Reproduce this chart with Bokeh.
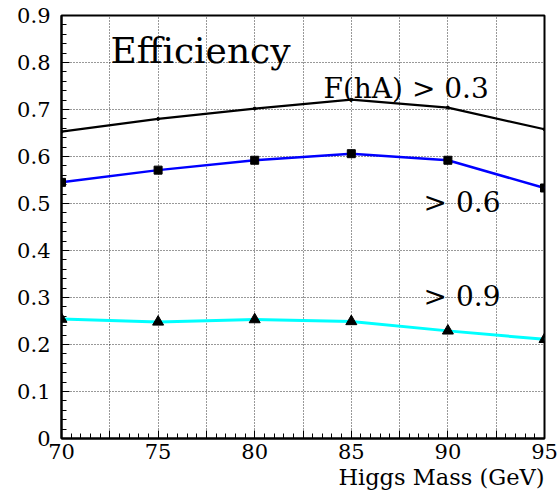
from bokeh.plotting import figure
from bokeh.models import Range1d, FixedTicker, Label, Title
from bokeh.embed import file_html
from bokeh.resources import INLINE

# ---- data ----
mass = [70, 75, 80, 85, 90, 95]
eff_03 = [0.653, 0.680, 0.702, 0.721, 0.704, 0.658]
eff_06 = [0.545, 0.571, 0.592, 0.606, 0.592, 0.533]
eff_09 = [0.254, 0.248, 0.253, 0.249, 0.229, 0.211]

x_major = [70, 72.5, 75, 77.5, 80, 82.5, 85, 87.5, 90, 92.5, 95]
x_labels = ["70", "", "75", "", "80", "", "85", "", "90", "", "95"]
x_minor = [70 + 0.5 * i for i in range(51)]
y_major = [0.0, 0.1, 0.2, 0.3, 0.4, 0.5, 0.6, 0.7, 0.8, 0.9]
y_labels = ["0", "0.1", "0.2", "0.3", "0.4", "0.5", "0.6", "0.7", "0.8", "0.9"]
y_minor = [round(0.02 * i, 2) for i in range(46)]

FONT = "DejaVu Serif"

p = figure(width=558, height=491, output_backend="svg", toolbar_location=None,
           x_range=Range1d(70, 95), y_range=Range1d(0, 0.9),
           min_border_left=61, min_border_right=14, min_border_top=15, min_border_bottom=53)
p.background_fill_color = "white"
p.border_fill_color = "white"
p.outline_line_color = "black"
p.outline_line_width = 2

p.xaxis.ticker = FixedTicker(ticks=x_major, minor_ticks=x_minor)
p.yaxis.ticker = FixedTicker(ticks=y_major, minor_ticks=y_minor)
p.xaxis.major_label_overrides = {t: l for t, l in zip(x_major, x_labels)}
p.yaxis.major_label_overrides = {t: l for t, l in zip(y_major, y_labels)}

for ax in (p.xaxis, p.yaxis):
    ax.axis_line_width = 2
    ax.axis_line_color = "black"
    ax.major_tick_in = 8
    ax.major_tick_out = 0
    ax.minor_tick_in = 5
    ax.minor_tick_out = 0
    ax.major_tick_line_color = "black"
    ax.minor_tick_line_color = "black"
    ax.major_label_text_font = FONT
    ax.major_label_text_font_size = "21px"
    ax.major_label_text_color = "black"
p.xaxis.major_label_standoff = 5
p.yaxis.major_label_standoff = 11

p.grid.grid_line_color = "black"
p.grid.grid_line_dash = "1 2"
p.grid.grid_line_width = 1
p.grid.grid_line_alpha = 0.8

# series
p.line(mass, eff_03, line_color="black", line_width=2.2)
p.scatter(mass, eff_03, marker="circle", size=3, color="black")

p.line(mass, eff_06, line_color="#0000ff", line_width=2.5)
p.scatter(mass, eff_06, marker="square", size=8, color="black")

p.line(mass, eff_09, line_color="#00ffff", line_width=3)
p.scatter(mass, eff_09, marker="triangle", size=11, color="black")

# texts
def lab(x, y, t, size, align="left"):
    p.add_layout(Label(x=x, y=y, text=t, text_font=FONT, text_font_size=size,
                       text_color="black", text_align=align, text_baseline="alphabetic"))

lab(72.54, 0.826, "Efficiency", "36px")
lab(83.56, 0.745, "F(hA) > 0.3", "28px")
lab(88.74, 0.502, "> 0.6", "28px")
lab(88.74, 0.302, "> 0.9", "28px")

xt = Title(text="Higgs Mass (GeV)", align="right", text_font=FONT,
           text_font_size="22.5px", text_font_style="normal", text_color="black",
           text_line_height=0.9, standoff=0, offset=0)
p.add_layout(xt, "below")

open("out.html", "w").write(file_html(p, INLINE))
